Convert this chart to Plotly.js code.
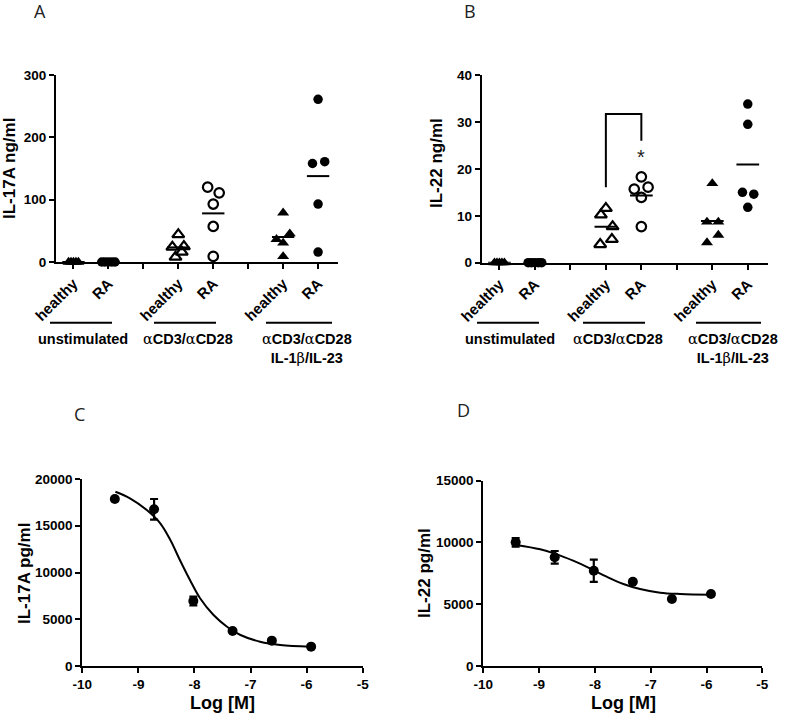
<!DOCTYPE html>
<html>
<head>
<meta charset="utf-8">
<script src="https://cdn.plot.ly/plotly-3.0.1.min.js"></script>
<style>html,body{margin:0;padding:0;background:#fff}#chart{width:787px;height:715px}</style>
</head>
<body>
<div id="chart"></div>
<script>
// ---------- DATA ----------
const categoryLabels = ['healthy', 'RA', '', 'healthy', 'RA', '', 'healthy', 'RA'];
const groupLabels = ['unstimulated', 'αCD3/αCD28', 'αCD3/αCD28<br>IL-1β/IL-23'];

// Panel A: IL-17A ng/ml
const A_unstim_healthy = [0, 0, 0, 0, 0];
const A_unstim_RA = [0, 0, 0, 0, 0];
const A_cd3_healthy = [44, 24, 25, 16, 8];
const A_cd3_RA = [120, 111, 93, 57, 9];
const A_cd3il_healthy = [79, 45.5, 36.4, 30.5, 9];
const A_cd3il_RA = [261, 158, 161, 93, 16];

// Panel B: IL-22 ng/ml
const B_unstim_healthy = [0, 0, 0, 0, 0];
const B_unstim_RA = [0, 0, 0, 0, 0];
const B_cd3_healthy = [11.6, 10.2, 7.7, 5.0, 3.9];
const B_cd3_RA = [18.3, 15.7, 16.1, 13.9, 7.7];
const B_cd3il_healthy = [16.9, 8.7, 8.7, 5.9, 4.3];
const B_cd3il_RA = [33.8, 29.5, 15.0, 14.6, 11.8];
const B_bracket = {left: 16.1, top: 31.7, right: 26.0, star: 22.6};

// Panel C: IL-17A pg/ml dose response
const C_logM = [-9.42, -8.72, -8.02, -7.32, -6.62, -5.92];
const C_mean = [17860, 16760, 6950, 3740, 2710, 2070];
const C_err = [0, 1100, 480, 0, 0, 0];
const C_fitX = [-9.41, -9.15, -8.85, -8.61, -8.43, -8.26, -8.08, -7.90, -7.66, -7.42, -7.18, -6.83, -6.47, -5.93];
const C_fitY = [18640, 17935, 16680, 15260, 13475, 11340, 9200, 7240, 5450, 4200, 3315, 2600, 2245, 2065];

// Panel D: IL-22 pg/ml dose response
const D_logM = [-9.42, -8.72, -8.02, -7.32, -6.62, -5.92];
const D_mean = [10010, 8800, 7715, 6825, 5425, 5830];
const D_err = [340, 510, 900, 0, 0, 0];
const D_fitX = [-9.41, -8.98, -8.68, -8.39, -8.09, -7.79, -7.49, -7.19, -6.83, -6.47, -5.92];
const D_fitY = [9795, 9445, 9040, 8525, 7910, 7230, 6640, 6235, 5935, 5830, 5770];

const logTicks = [-10, -9, -8, -7, -6, -5];
const A_yTicks = [0, 100, 200, 300];
const B_yTicks = [0, 10, 20, 30, 40];
const C_yTicks = [0, 5000, 10000, 15000, 20000];
const D_yTicks = [0, 5000, 10000, 15000];

// ---------- STYLE / LAYOUT HELPERS ----------
const W = 787, H = 715;
const px = x => x / W;
const py = y => 1 - y / H;
const FONT = '"Liberation Sans", Arial, sans-serif';
const BLACK = '#000';
const b = t => t ? '<b>' + t + '</b>' : '';

// horizontal spread of overlapping points (layout only)
const spreadA = [
  [-0.14, -0.07, 0, 0.07, 0.14],
  [-0.19, -0.1, 0, 0.1, 0.19],
  [0, -0.17, 0.16, 0.1, -0.08],
  [-0.16, 0.17, 0, 0, 0],
  [0, 0.19, -0.19, 0, 0],
  [0, -0.16, 0.19, 0, 0]
];
const spreadB = [
  [-0.14, -0.07, 0, 0.07, 0.14],
  [-0.19, -0.1, 0, 0.1, 0.19],
  [0, -0.14, 0.19, 0.17, -0.16],
  [0, -0.2, 0.19, 0, 0],
  [0, -0.15, 0.17, 0.17, -0.15],
  [0, 0, -0.15, 0.17, 0]
];
const positions = [1, 2, 4, 5, 7, 8];
const symbols = ['triangle-up', 'circle', 'triangle-up-open', 'circle-open', 'triangle-up', 'circle'];

const traces = [];
function addScatterPanel(groups, spread, xa, ya) {
  groups.forEach((vals, g) => {
    const c = positions[g];
    const s = symbols[g];
    const open = s.endsWith('open');
    traces.push({
      type: 'scatter', mode: 'markers', xaxis: xa, yaxis: ya,
      x: vals.map((v, i) => c + spread[g][i]), y: vals,
      cliponaxis: false, showlegend: false, hoverinfo: 'y',
      marker: {symbol: s, size: s.startsWith('circle') ? 9.5 : 10.5,
               color: BLACK, line: {color: BLACK, width: open ? 2.2 : 0}}
    });
    const mean = vals.reduce((a, v) => a + v, 0) / vals.length;
    traces.push({
      type: 'scatter', mode: 'lines', xaxis: xa, yaxis: ya,
      x: [c - 0.32, c + 0.32], y: [mean, mean], cliponaxis: false,
      showlegend: false, hoverinfo: 'skip', line: {color: BLACK, width: 2}
    });
  });
}
addScatterPanel([A_unstim_healthy, A_unstim_RA, A_cd3_healthy, A_cd3_RA, A_cd3il_healthy, A_cd3il_RA], spreadA, 'x', 'y');
addScatterPanel([B_unstim_healthy, B_unstim_RA, B_cd3_healthy, B_cd3_RA, B_cd3il_healthy, B_cd3il_RA], spreadB, 'x2', 'y2');

function addDosePanel(xs, ys, errs, fx, fy, xa, ya) {
  traces.push({
    type: 'scatter', mode: 'lines', xaxis: xa, yaxis: ya, x: fx, y: fy,
    line: {color: BLACK, width: 2, shape: 'spline', smoothing: 1}, showlegend: false, hoverinfo: 'skip'
  });
  traces.push({
    type: 'scatter', mode: 'markers', xaxis: xa, yaxis: ya, x: xs, y: ys,
    marker: {symbol: 'circle', size: 10, color: BLACK},
    error_y: {type: 'data', array: errs, visible: true, color: BLACK, thickness: 2.2, width: 4},
    showlegend: false, cliponaxis: false
  });
}
addDosePanel(C_logM, C_mean, C_err, C_fitX, C_fitY, 'x3', 'y3');
addDosePanel(D_logM, D_mean, D_err, D_fitX, D_fitY, 'x4', 'y4');

const tickFont = {family: FONT, size: 13.5, color: BLACK};
const catFont = {family: FONT, size: 15, color: BLACK};
const axBase = {showgrid: false, zeroline: false, showline: true, linecolor: BLACK, linewidth: 2,
                ticks: 'outside', ticklen: 5, tickwidth: 2, tickcolor: BLACK, fixedrange: true};

function catX(domain, anchor) {
  return Object.assign({}, axBase, {domain, anchor, range: [0.5, 8.57],
    tickmode: 'array', tickvals: [1, 2, 3, 4, 5, 6, 7, 8], ticktext: categoryLabels.map(b),
    tickangle: -45, tickfont: catFont});
}
function linY(domain, anchor, range, vals) {
  return Object.assign({}, axBase, {domain, anchor, range, tickmode: 'array', tickvals: vals,
    ticktext: vals.map(v => b(String(v))), tickfont: tickFont});
}
function logX(domain, anchor) {
  return Object.assign({}, axBase, {domain, anchor, range: [-10, -5], tickmode: 'array',
    tickvals: logTicks, ticktext: logTicks.map(v => b(String(v))), tickfont: tickFont});
}

const layout = {
  width: W, height: H, margin: {l: 0, r: 0, t: 0, b: 0},
  paper_bgcolor: '#fff', plot_bgcolor: 'rgba(0,0,0,0)', showlegend: false,
  xaxis: catX([px(56), px(338)], 'y'),
  yaxis: linY([py(262), py(75)], 'x', [0, 300], A_yTicks),
  xaxis2: catX([px(481.7), px(768)], 'y2'),
  yaxis2: linY([py(262.7), py(75)], 'x2', [0, 40], B_yTicks),
  xaxis3: logX([px(82.3), px(362.7)], 'y3'),
  yaxis3: linY([py(666), py(479)], 'x3', [0, 20000], C_yTicks),
  xaxis4: logX([px(483.3), px(762.3)], 'y4'),
  yaxis4: linY([py(666), py(480.7)], 'x4', [0, 15000], D_yTicks),
  shapes: [],
  annotations: []
};

// group underline bars
const barY = 322.7;
[[50, 112], [154, 216], [266, 332], [477, 539], [583, 645], [696, 761]].forEach(([a, c]) => {
  layout.shapes.push({type: 'line', xref: 'paper', yref: 'paper', x0: px(a), x1: px(c), y0: py(barY), y1: py(barY),
    line: {color: BLACK, width: 2}});
});
// significance bracket in B
layout.shapes.push({type: 'path', xref: 'x2', yref: 'y2',
  path: `M 4 ${B_bracket.left} L 4 ${B_bracket.top} L 5 ${B_bracket.top} L 5 ${B_bracket.right}`,
  line: {color: BLACK, width: 2}});
layout.annotations.push({xref: 'x2', yref: 'y2', x: 5, y: B_bracket.star, text: '*', showarrow: false,
  font: {family: FONT, size: 20, color: '#222'}, yanchor: 'middle'});

const groupFont = {family: FONT, size: 14.5, color: BLACK};
function fmtGroup(t) {
  return t.split('<br>').map(line => '<b>' + line
    .replace(/α/g, '</b><span style="font-family:\'DejaVu Serif\',serif">α</span><b>')
    .replace(/β/g, '</b><span style="font-family:\'DejaVu Serif\',serif">β</span><b>') + '</b>').join('<br>');
}
[[83, 188, 307], [510, 617.5, 733]].forEach(xs => {
  xs.forEach((x, i) => {
    layout.annotations.push({xref: 'paper', yref: 'paper', x: px(x), y: py(329), text: fmtGroup(groupLabels[i]),
      showarrow: false, xanchor: 'center', yanchor: 'top', font: groupFont, align: 'center'});
  });
});

// panel letters
const letterFont = {family: '"Open Sans", "Liberation Sans", sans-serif', size: 18, color: '#222'};
[['A', 40, 11], ['B', 470, 11], ['C', 79, 414], ['D', 464, 410]].forEach(([t, x, y]) => {
  layout.annotations.push({xref: 'paper', yref: 'paper', x: px(x), y: py(y), text: t, showarrow: false,
    xanchor: 'center', yanchor: 'middle', font: letterFont});
});

// axis titles
const titleFont = {family: FONT, size: 17, color: BLACK};
[['IL-17A ng/ml', 10, 169], ['IL-22 ng/ml', 436, 163], ['IL-17A pg/ml', 24, 574], ['IL-22 pg/ml', 424, 573]].forEach(([t, x, y]) => {
  layout.annotations.push({xref: 'paper', yref: 'paper', x: px(x), y: py(y), text: b(t), showarrow: false,
    textangle: -90, xanchor: 'center', yanchor: 'middle', font: titleFont});
});
[['Log [M]', 222.5, 703], ['Log [M]', 623, 703]].forEach(([t, x, y]) => {
  layout.annotations.push({xref: 'paper', yref: 'paper', x: px(x), y: py(y), text: b(t), showarrow: false,
    xanchor: 'center', yanchor: 'middle', font: Object.assign({}, titleFont, {size: 18})});
});

Plotly.newPlot('chart', traces, layout, {staticPlot: true, displayModeBar: false});
</script>
</body>
</html>
